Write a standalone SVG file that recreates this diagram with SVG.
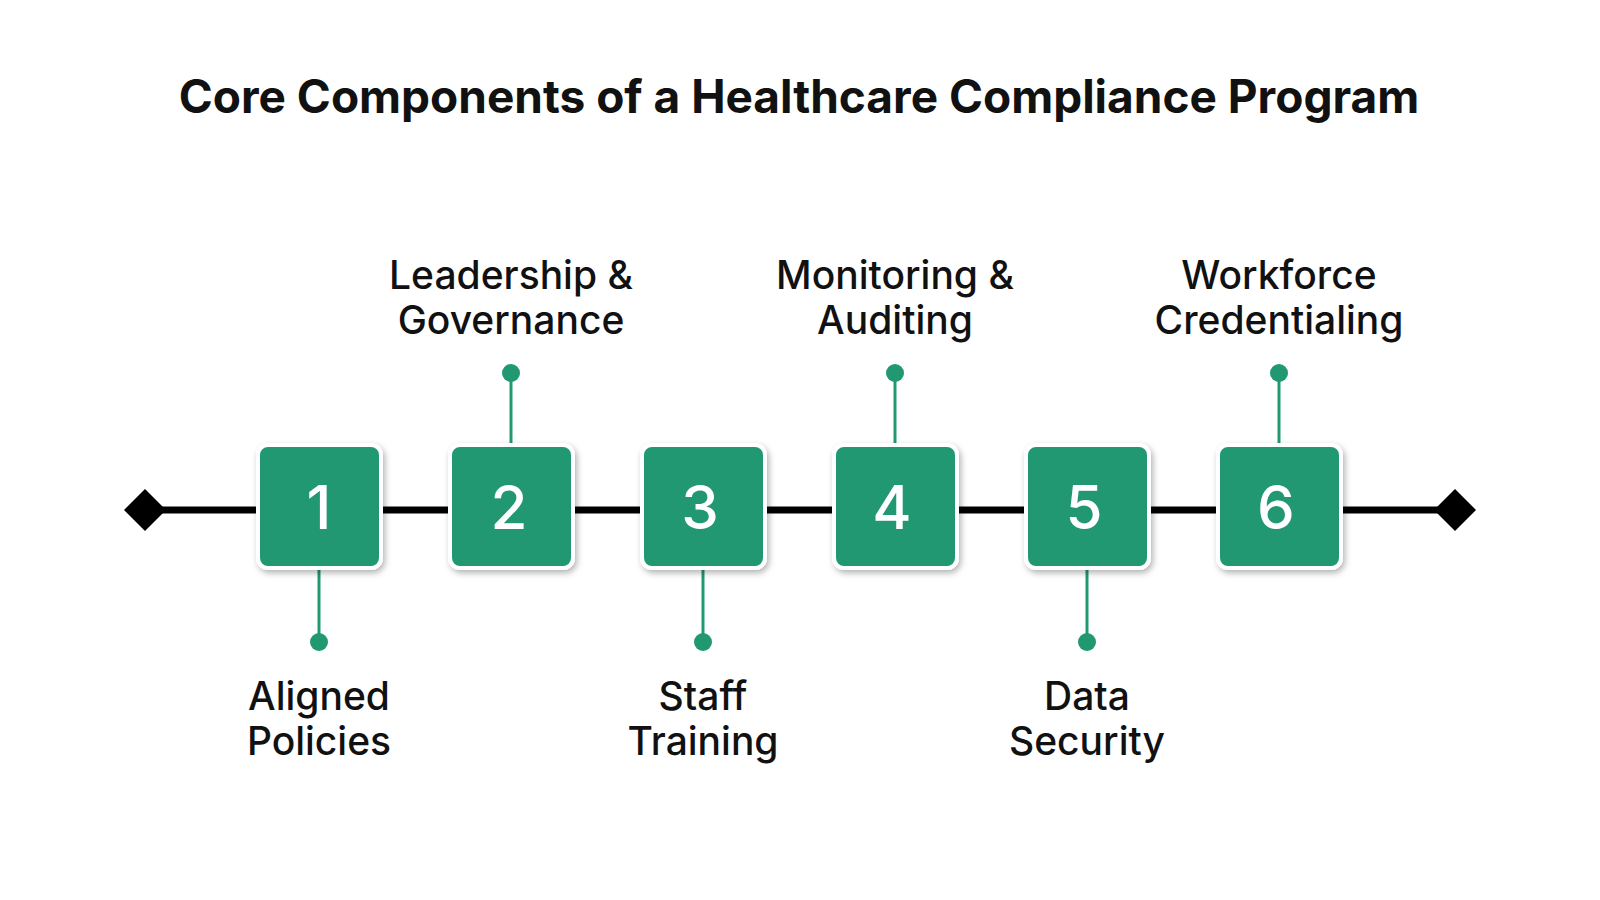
<svg xmlns="http://www.w3.org/2000/svg" width="1600" height="900" viewBox="0 0 1600 900">
<defs>
<filter id="sh" x="-20%" y="-20%" width="150%" height="150%"><feDropShadow dx="2" dy="3" stdDeviation="3" flood-color="#000" flood-opacity="0.3"/></filter>
<style>
.t{font-family:Inter,"Noto Sans",sans-serif;font-weight:700;font-size:46px;fill:#111;text-anchor:middle}
.l{font-family:Inter,"Noto Sans",sans-serif;font-weight:500;font-size:39px;fill:#111;text-anchor:middle}
.n{font-family:Inter,"Noto Sans",sans-serif;font-weight:500;font-size:60px;fill:#fff;text-anchor:middle}
.b{fill:#219872;stroke:#fff;stroke-width:4;filter:url(#sh)}
.c{stroke:#219872;stroke-width:3}
.d{fill:#219872}
</style>
</defs>
<rect width="1600" height="900" fill="#fff"/>
<text class="t" x="799" y="113">Core Components of a Healthcare Compliance Program</text>
<g id="connectors">
<line x1="145" y1="510" x2="1455" y2="510" stroke="#000" stroke-width="7"/>
<path d="M124 510 L145 489 L166 510 L145 531Z"/>
<path d="M1434 510 L1455 489 L1476 510 L1455 531Z"/>
<line class="c" x1="319" y1="570" x2="319" y2="642"/><circle class="d" cx="319" cy="642" r="9"/>
<line class="c" x1="511" y1="373" x2="511" y2="445"/><circle class="d" cx="511" cy="373" r="9"/>
<line class="c" x1="703" y1="570" x2="703" y2="642"/><circle class="d" cx="703" cy="642" r="9"/>
<line class="c" x1="895" y1="373" x2="895" y2="445"/><circle class="d" cx="895" cy="373" r="9"/>
<line class="c" x1="1087" y1="570" x2="1087" y2="642"/><circle class="d" cx="1087" cy="642" r="9"/>
<line class="c" x1="1279" y1="373" x2="1279" y2="445"/><circle class="d" cx="1279" cy="373" r="9"/>
</g>
<g id="n1"><rect class="b" x="258" y="445" width="123" height="123" rx="10"/><text class="n" x="319" y="529">1</text><text class="l" x="319" y="710">Aligned</text><text class="l" x="319" y="755">Policies</text></g>
<g id="n2"><rect class="b" x="450" y="445" width="123" height="123" rx="10"/><text class="n" x="509" y="529">2</text><text class="l" x="511" y="289">Leadership &amp;</text><text class="l" x="511" y="334">Governance</text></g>
<g id="n3"><rect class="b" x="642" y="445" width="123" height="123" rx="10"/><text class="n" x="700" y="529">3</text><text class="l" x="703" y="710">Staff</text><text class="l" x="703" y="755">Training</text></g>
<g id="n4"><rect class="b" x="834" y="445" width="123" height="123" rx="10"/><text class="n" x="892" y="529">4</text><text class="l" x="895" y="289">Monitoring &amp;</text><text class="l" x="895" y="334">Auditing</text></g>
<g id="n5"><rect class="b" x="1026" y="445" width="123" height="123" rx="10"/><text class="n" x="1084" y="529">5</text><text class="l" x="1087" y="710">Data</text><text class="l" x="1087" y="755">Security</text></g>
<g id="n6"><rect class="b" x="1218" y="445" width="123" height="123" rx="10"/><text class="n" x="1276" y="529">6</text><text class="l" x="1279" y="289">Workforce</text><text class="l" x="1279" y="334">Credentialing</text></g>
</svg>
